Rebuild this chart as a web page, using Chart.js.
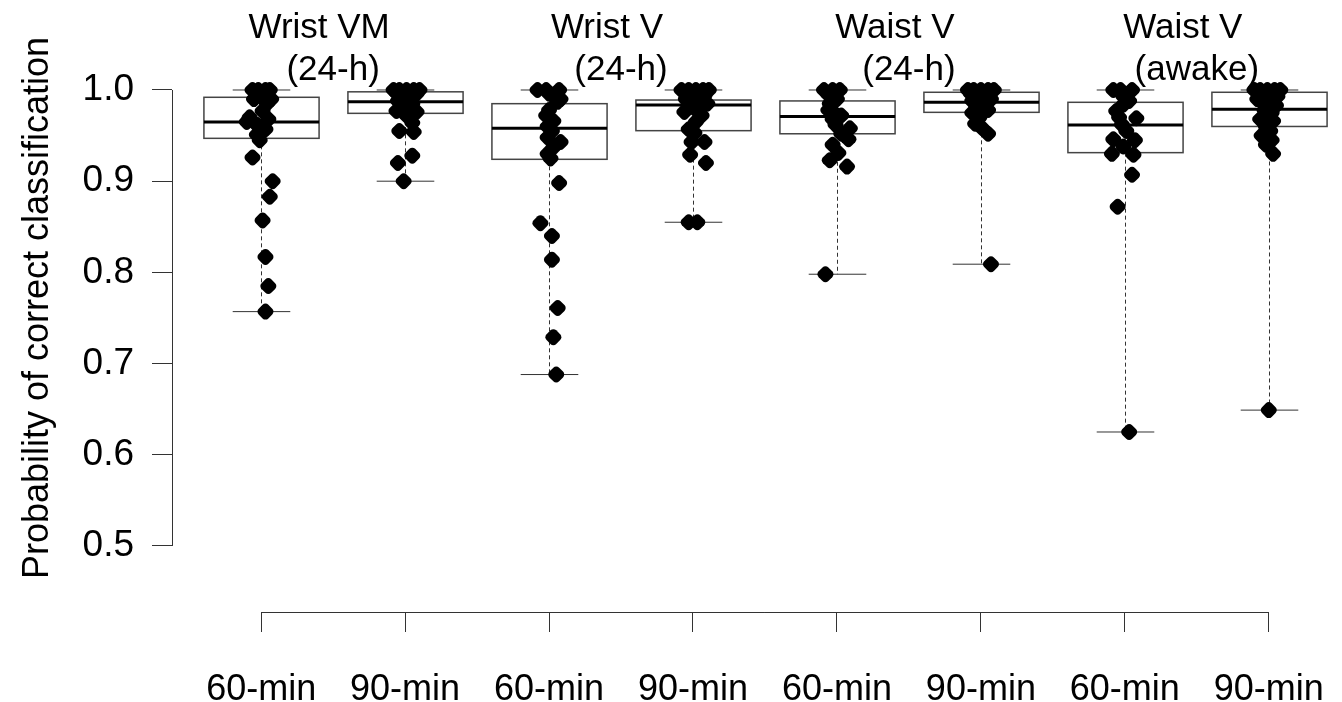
<!DOCTYPE html>
<html>
<head>
<meta charset="utf-8">
<script src="https://cdn.jsdelivr.net/npm/chart.js@4.4.1/dist/chart.umd.min.js"></script>
<style>
  html, body { margin: 0; padding: 0; background: #fff; }
  #wrap { width: 1342px; height: 702px; }
</style>
</head>
<body>
<div id="wrap"><canvas id="boxChart"></canvas></div>
<script>
const categories = ['60-min', '90-min', '60-min', '90-min', '60-min', '90-min', '60-min', '90-min'];
const groupTitles = [['Wrist VM', '(24-h)'], ['Wrist V', '(24-h)'], ['Waist V', '(24-h)'], ['Waist V', '(awake)']];
const yTicks = [0.5, 0.6, 0.7, 0.8, 0.9, 1.0];
const yTitle = 'Probability of correct classification';

// box statistics (whiskers go to min / max)
const whiskerHigh = [1.0, 1.0, 1.0, 1.0, 1.0, 1.0, 1.0, 1.0];
const q3 = [0.992, 0.998, 0.985, 0.989, 0.988, 0.9975, 0.9865, 0.9975];
const medians = [0.965, 0.987, 0.958, 0.9836, 0.971, 0.9865, 0.9616, 0.979];
const q1 = [0.947, 0.9744, 0.924, 0.9554, 0.952, 0.9755, 0.9313, 0.96];
const whiskerLow = [0.757, 0.90, 0.688, 0.855, 0.798, 0.809, 0.625, 0.649];

// individual subjects, with the horizontal jitter used in the figure (category units)
const wristVM60 = [1.0, 1.0, 1.0, 1.0, 0.996, 0.99, 0.99, 0.985, 0.977, 0.97, 0.968, 0.965, 0.962, 0.957, 0.951, 0.945, 0.926, 0.9, 0.883, 0.857, 0.817, 0.785, 0.757];
const wristVM60Jit = [-0.06, -0.02, 0.03, 0.06, 0.01, -0.05, 0.07, 0.04, 0.01, -0.08, 0.05, -0.10, -0.03, 0.03, -0.03, -0.01, -0.06, 0.08, 0.06, 0.01, 0.03, 0.05, 0.03];
const wristVM90 = [1.0, 1.0, 1.0, 1.0, 1.0, 0.997, 0.996, 0.993, 0.99, 0.988, 0.985, 0.982, 0.977, 0.976, 0.972, 0.964, 0.955, 0.954, 0.928, 0.92, 0.9];
const wristVM90Jit = [-0.08, -0.04, 0.01, 0.06, 0.10, -0.06, 0.08, -0.01, 0.03, -0.05, 0.05, 0, -0.06, 0.08, 0.01, 0.05, -0.04, 0.06, 0.05, -0.05, -0.01];
const wristV60 = [1.0, 1.0, 1.0, 0.996, 0.99, 0.987, 0.978, 0.972, 0.966, 0.96, 0.955, 0.948, 0.943, 0.937, 0.93, 0.925, 0.898, 0.854, 0.84, 0.814, 0.761, 0.729, 0.688];
const wristV60Jit = [-0.08, -0.02, 0.07, 0, 0.08, 0.06, 0, -0.02, 0.03, -0.01, 0.02, -0.01, 0.08, 0.03, -0.01, 0.01, 0.07, -0.06, 0.02, 0.02, 0.06, 0.03, 0.05];
const wristV90 = [1.0, 1.0, 1.0, 1.0, 1.0, 0.996, 0.994, 0.99, 0.988, 0.985, 0.98, 0.976, 0.972, 0.965, 0.957, 0.953, 0.943, 0.943, 0.929, 0.92, 0.855, 0.855];
const wristV90Jit = [-0.08, -0.03, 0.02, 0.07, 0.11, -0.01, 0.08, -0.05, 0.04, 0.10, 0.01, -0.06, 0.06, 0.02, -0.03, 0.01, -0.01, 0.08, -0.02, 0.09, -0.03, 0.03];
const waistV60 = [1.0, 1.0, 1.0, 0.998, 0.995, 0.99, 0.985, 0.978, 0.975, 0.972, 0.968, 0.962, 0.958, 0.952, 0.946, 0.94, 0.931, 0.923, 0.916, 0.798];
const waistV60Jit = [-0.09, -0.03, 0.02, -0.01, -0.06, 0, -0.05, -0.06, -0.02, 0.03, -0.03, -0.01, 0.09, 0.03, 0.08, -0.03, 0.01, -0.05, 0.07, -0.08];
const waistV90 = [1.0, 1.0, 1.0, 1.0, 1.0, 0.996, 0.995, 0.993, 0.99, 0.988, 0.985, 0.982, 0.978, 0.975, 0.97, 0.963, 0.958, 0.952, 0.809];
const waistV90Jit = [-0.09, -0.05, 0, 0.05, 0.09, -0.07, 0.03, -0.02, 0.07, -0.06, 0.01, -0.03, 0.05, -0.06, -0.01, -0.04, 0.01, 0.05, 0.07];
const awake60 = [1.0, 1.0, 1.0, 0.993, 0.988, 0.984, 0.977, 0.97, 0.969, 0.962, 0.955, 0.946, 0.945, 0.938, 0.93, 0.929, 0.907, 0.872, 0.625];
const awake60Jit = [-0.08, -0.03, 0.05, -0.01, 0.03, -0.01, -0.06, -0.04, 0.08, -0.02, 0.01, -0.08, 0.07, -0.01, -0.09, 0.06, 0.05, -0.05, 0.03];
const awake90 = [1.0, 1.0, 1.0, 1.0, 1.0, 0.996, 0.993, 0.99, 0.987, 0.983, 0.978, 0.975, 0.968, 0.966, 0.96, 0.955, 0.95, 0.945, 0.94, 0.93, 0.649];
const awake90Jit = [-0.10, -0.06, -0.01, 0.04, 0.08, -0.03, 0.06, -0.08, 0.01, 0.05, -0.03, 0.02, -0.06, 0.03, -0.02, 0.01, -0.05, 0.02, -0.02, 0.03, 0];

const groupValues = [wristVM60, wristVM90, wristV60, wristV90, waistV60, waistV90, awake60, awake90];
const groupJitter = [wristVM60Jit, wristVM90Jit, wristV60Jit, wristV90Jit, waistV60Jit, waistV90Jit, awake60Jit, awake90Jit];

const points = [];
groupValues.forEach((vals, g) => {
  vals.forEach((v, k) => points.push({ x: g + 1 + groupJitter[g][k], y: v }));
});

const FONT = '"Liberation Sans", Arial, sans-serif';

// R-style boxes drawn under the points
const boxPlugin = {
  id: 'boxes',
  beforeDatasetsDraw(chart) {
    const { ctx, scales: { x, y } } = chart;
    const half = x.getPixelForValue(1.4) - x.getPixelForValue(1);
    const cap = half / 2;
    const seg = (x1, y1, x2, y2) => { ctx.beginPath(); ctx.moveTo(x1, y1); ctx.lineTo(x2, y2); ctx.stroke(); };
    ctx.save();
    for (let i = 0; i < categories.length; i++) {
      const cx = Math.round(x.getPixelForValue(i + 1)) + 0.5;
      const pHi = y.getPixelForValue(whiskerHigh[i]);
      const pQ3 = y.getPixelForValue(q3[i]);
      const pMed = y.getPixelForValue(medians[i]);
      const pQ1 = y.getPixelForValue(q1[i]);
      const pLo = y.getPixelForValue(whiskerLow[i]);
      ctx.strokeStyle = '#333';
      ctx.lineWidth = 1;
      ctx.setLineDash([4, 3]);
      seg(cx, pQ3, cx, pHi);
      seg(cx, pQ1, cx, pLo);
      ctx.setLineDash([]);
      seg(cx - cap, pHi, cx + cap, pHi);
      seg(cx - cap, pLo, cx + cap, pLo);
      ctx.strokeStyle = '#444';
      ctx.lineWidth = 1.5;
      ctx.fillStyle = '#fff';
      ctx.fillRect(cx - half, pQ3, 2 * half, pQ1 - pQ3);
      ctx.strokeRect(cx - half, pQ3, 2 * half, pQ1 - pQ3);
      ctx.strokeStyle = '#000';
      ctx.lineWidth = 3;
      seg(cx - half, pMed, cx + half, pMed);
    }
    ctx.restore();
  }
};

// axis lines that only span the ticks, group titles and y title
const decorPlugin = {
  id: 'decor',
  afterDraw(chart) {
    const { ctx, chartArea, scales: { x, y } } = chart;
    ctx.save();
    ctx.strokeStyle = '#333';
    ctx.lineWidth = 1;
    const yl = Math.round(chartArea.left) + 0.5;
    ctx.beginPath();
    ctx.moveTo(yl, y.getPixelForValue(yTicks[yTicks.length - 1]));
    ctx.lineTo(yl, y.getPixelForValue(yTicks[0]));
    ctx.stroke();
    const xb = Math.round(chartArea.bottom) + 0.5;
    ctx.beginPath();
    ctx.moveTo(x.getPixelForValue(1), xb);
    ctx.lineTo(x.getPixelForValue(categories.length), xb);
    ctx.stroke();

    ctx.fillStyle = '#000';
    ctx.font = '35px ' + FONT;
    ctx.textAlign = 'center';
    ctx.textBaseline = 'middle';
    groupTitles.forEach((lines, j) => {
      const cx = x.getPixelForValue(2 * j + 1.5);
      ctx.fillText(lines[0], cx - 14, 28);
      ctx.fillText(lines[1], cx, 70);
    });

    ctx.font = '36px ' + FONT;
    ctx.translate(38, 308);
    ctx.rotate(-Math.PI / 2);
    ctx.fillText(yTitle, 0, 0);
    ctx.restore();
  }
};

new Chart(document.getElementById('boxChart'), {
  type: 'scatter',
  data: {
    datasets: [{
      data: points,
      pointStyle: 'rectRounded',
      rotation: 45,
      radius: 8,
      backgroundColor: '#000',
      borderColor: '#000',
      borderWidth: 0,
      clip: false
    }]
  },
  options: {
    responsive: true,
    maintainAspectRatio: false,
    animation: false,
    events: [],
    layout: { padding: { top: 80, right: 0, bottom: 0, left: 0 } },
    plugins: { legend: { display: false }, tooltip: { enabled: false } },
    scales: {
      x: {
        type: 'linear',
        min: 0.3807,
        max: 8.453,
        afterBuildTicks: s => { s.ticks = categories.map((c, i) => ({ value: i + 1 })); },
        afterFit: s => { s.height = 90; s.paddingLeft = 0; s.paddingRight = 0; },
        border: { display: false },
        grid: { drawOnChartArea: false, tickLength: 20, color: '#333' },
        ticks: {
          autoSkip: false,
          maxRotation: 0,
          padding: 36,
          color: '#000',
          font: { family: FONT, size: 36 },
          callback: (v, i) => categories[i]
        }
      },
      y: {
        min: 0.42763,
        max: 1.01096,
        afterBuildTicks: s => { s.ticks = yTicks.map(v => ({ value: v })); },
        afterFit: s => { s.width = 172; s.paddingTop = 0; s.paddingBottom = 0; },
        border: { display: false },
        grid: { drawOnChartArea: false, tickLength: 20, color: '#333' },
        ticks: {
          padding: 18,
          color: '#000',
          font: { family: FONT, size: 37 },
          callback: v => v.toFixed(1)
        }
      }
    }
  },
  plugins: [boxPlugin, decorPlugin]
});
</script>
</body>
</html>
